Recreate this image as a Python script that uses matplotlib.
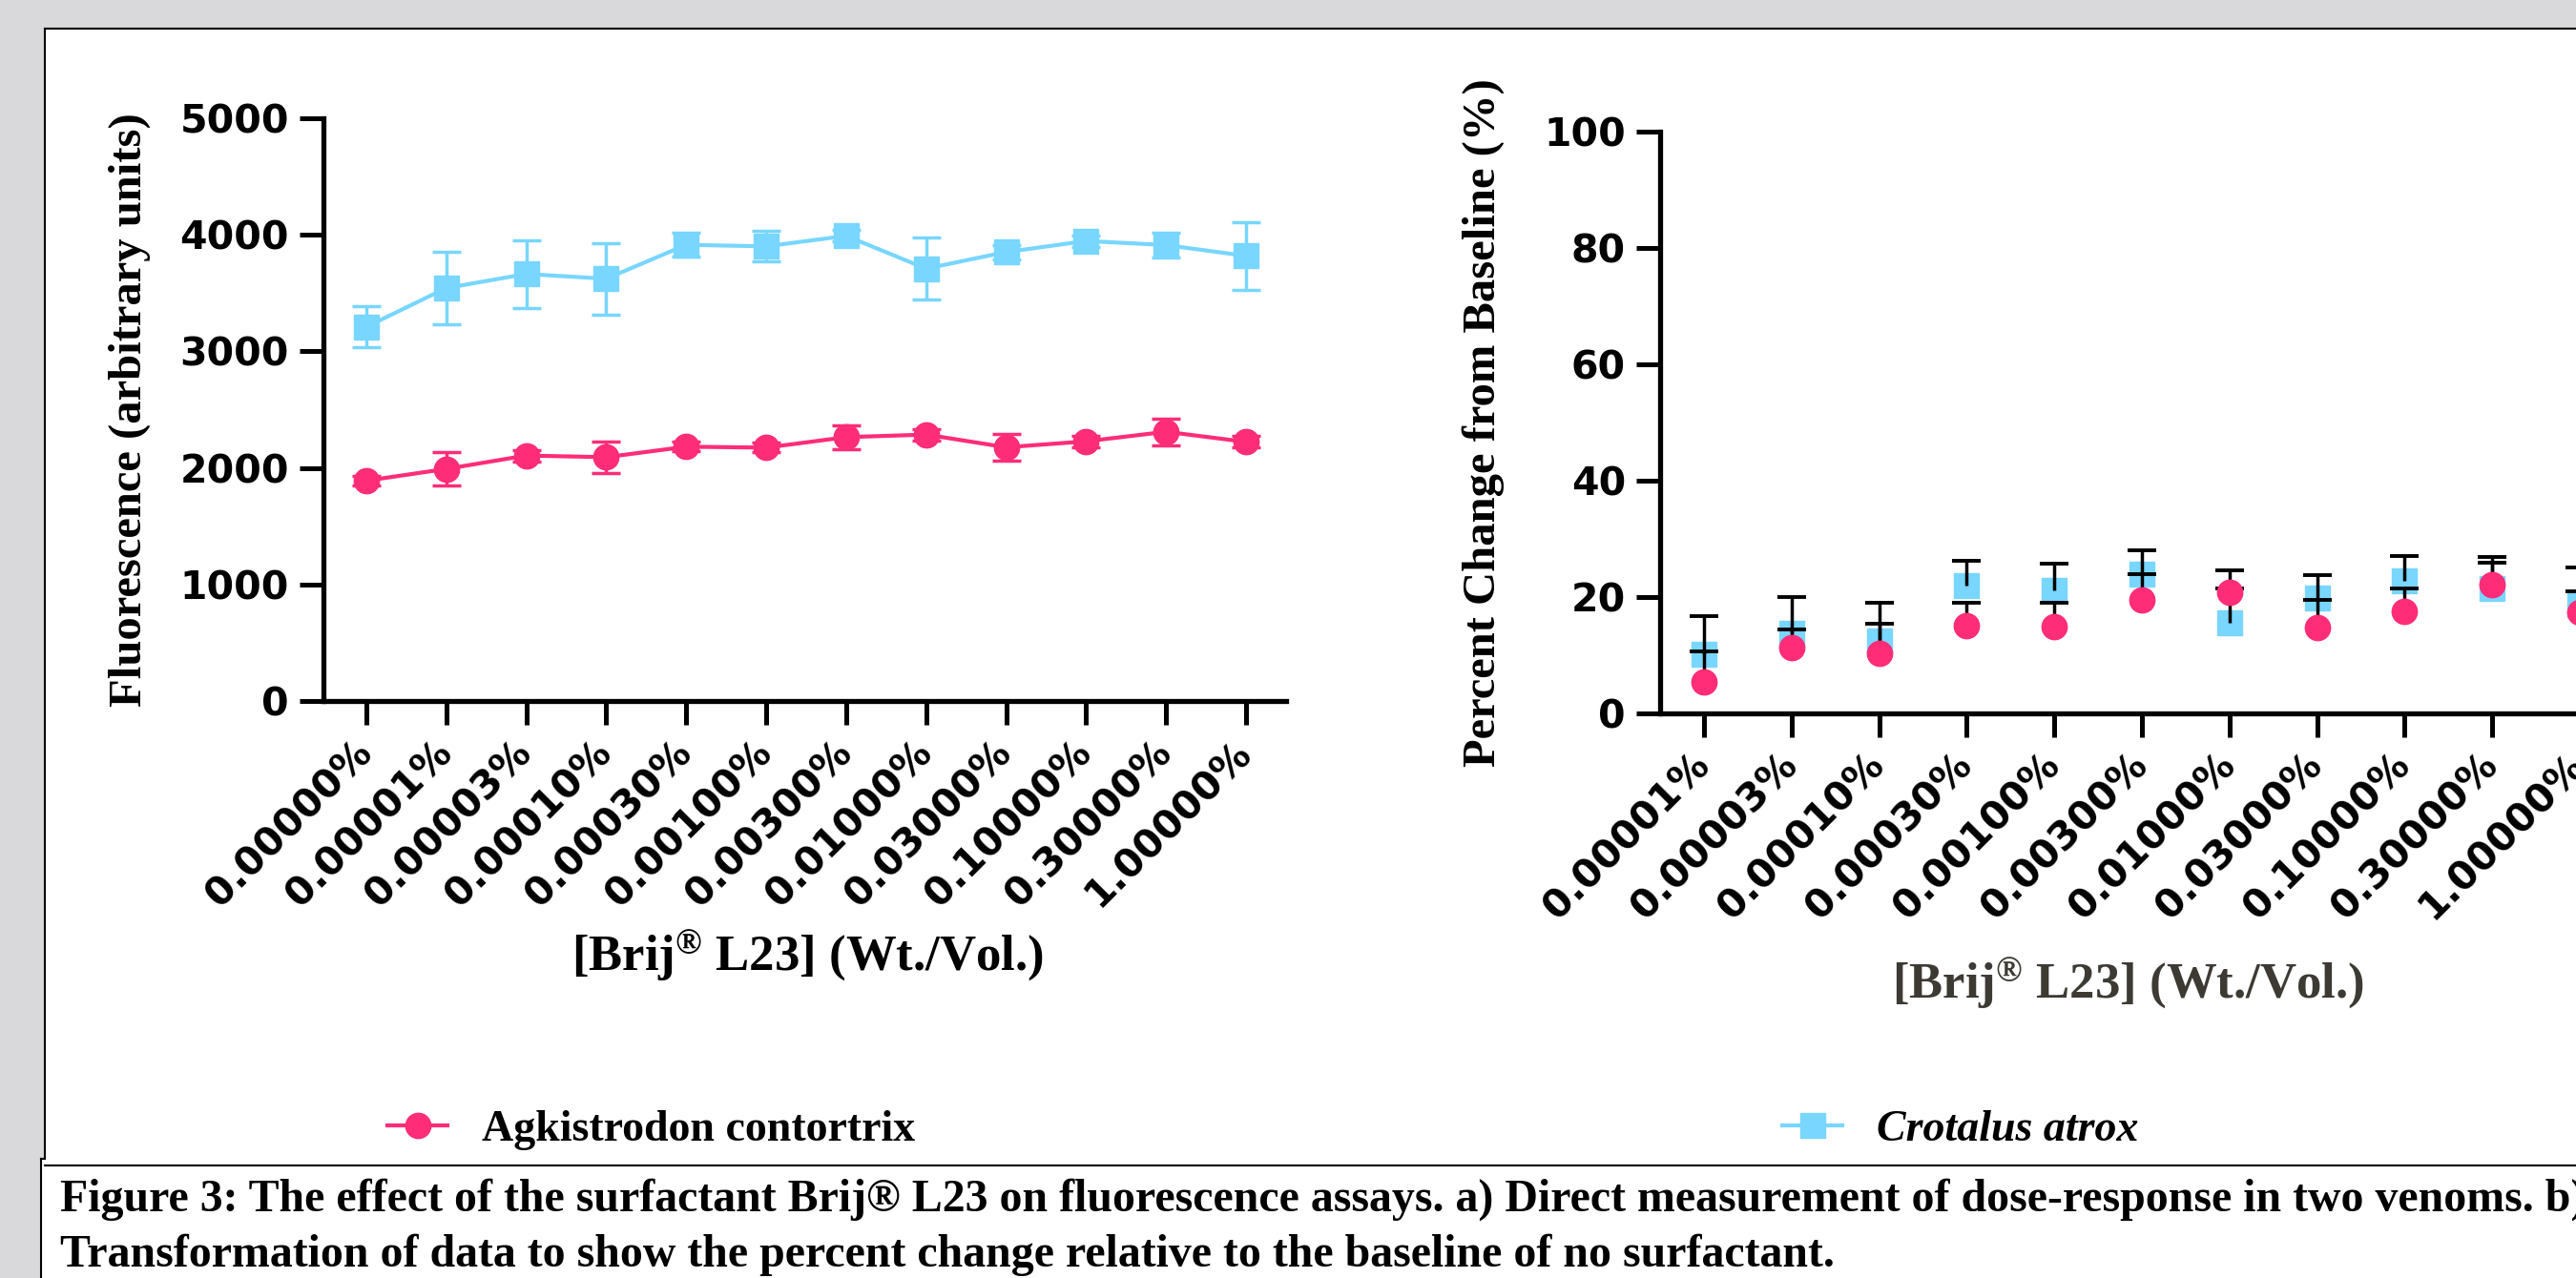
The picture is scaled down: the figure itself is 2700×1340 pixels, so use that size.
import numpy as np
import matplotlib
matplotlib.use("Agg")
import matplotlib.pyplot as plt
from matplotlib.lines import Line2D
from matplotlib.patches import Rectangle
from matplotlib.font_manager import FontProperties

# dose labels (panel a has the 0 % baseline, panel b starts at 0.00001 %)
doses_a = ["0.00000%", "0.00001%", "0.00003%", "0.00010%", "0.00030%", "0.00100%",
           "0.00300%", "0.01000%", "0.03000%", "0.10000%", "0.30000%", "1.00000%"]
doses_b = doses_a[1:]

# a) raw fluorescence, mean and SD
agk_fluor = [1890, 1991, 2106, 2092, 2182, 2174, 2264, 2286, 2177, 2228, 2310, 2223]
agk_fluor_err = [40, 142, 50, 133, 40, 40, 105, 50, 115, 50, 113, 50]
cro_fluor = [3210, 3543, 3664, 3623, 3914, 3901, 3991, 3710, 3852, 3947, 3912, 3819]
cro_fluor_err = [175, 310, 290, 305, 100, 130, 50, 265, 60, 50, 105, 290]

# b) percent change from baseline, mean and upper SD
agk_pct = [5.45, 11.3, 10.4, 15.15, 14.9, 19.5, 20.8, 14.8, 17.6, 22.1, 17.4]
agk_pct_err = [5.15, 3.2, 5.0, 3.9, 4.1, 4.5, 3.8, 4.7, 3.9, 4.8, 3.5]
cro_pct = [10.1, 13.7, 12.4, 21.9, 21.2, 24.0, 15.5, 19.75, 22.7, 21.55, 18.7]
cro_pct_err = [6.6, 6.35, 6.67, 4.3, 4.6, 4.1, 6.0, 3.95, 4.4, 4.35, 6.4]

PINK = "#FF2D78"
BLUE = "#78D6FF"
GREY = "#D9D9DB"

W, H = 2700, 1340


def fx(px):
    return px / W


def fy(py):
    return 1 - py / H


plt.rcParams["mathtext.fontset"] = "custom"
plt.rcParams["mathtext.rm"] = "Liberation Serif:bold"
plt.rcParams["mathtext.default"] = "rm"

serif = "Liberation Serif"
tick_fs = 29.5

fig = plt.figure(figsize=(W / 100, H / 100), dpi=100, facecolor=GREY)

# page boxes behind the figure
fig.patches.append(Rectangle((fx(47), fy(1215)), fx(2800) - fx(47), fy(30) - fy(1215),
                             transform=fig.transFigure, facecolor="white", edgecolor="none", zorder=-5))
fig.patches.append(Rectangle((fx(43), fy(1400)), fx(2800) - fx(43), fy(1215) - fy(1400),
                             transform=fig.transFigure, facecolor="white", edgecolor="none", zorder=-5))
for xs, ys in [([47, 47], [1215, 30]), ([47, 2800], [30, 30]), ([43, 47], [1215, 1215]),
               ([43, 43], [1215, 1400]), ([47, 2800], [1222, 1222])]:
    fig.add_artist(Line2D([fx(v) for v in xs], [fy(v) for v in ys], transform=fig.transFigure,
                          color="black", lw=1.5, zorder=-4))


def style_axis(ax):
    ax.set_zorder(2)
    for side in ["top", "right"]:
        ax.spines[side].set_visible(False)
    for side in ["left", "bottom"]:
        ax.spines[side].set_linewidth(3.8)
    ax.tick_params(axis="both", length=18, width=3.6)
    ax.tick_params(axis="y", pad=8)
    ax.tick_params(axis="x", pad=17)
    ax.set_facecolor("none")


# ---- panel a
ax1 = fig.add_axes([fx(339), fy(735), (1348 - 339) / W, (735 - 124) / H])
xa = np.arange(len(doses_a))
ax1.errorbar(xa, cro_fluor, yerr=cro_fluor_err, color=BLUE, marker="s", ms=19, lw=3,
             elinewidth=2.5, capsize=11, capthick=2.5, clip_on=False)
ax1.errorbar(xa, agk_fluor, yerr=agk_fluor_err, color=PINK, marker="o", ms=19, lw=3,
             elinewidth=2.5, capsize=11, capthick=2.5, clip_on=False)
ax1.set_xlim(-0.535, 11.5)
ax1.set_ylim(0, 5000)
ax1.set_yticks(np.arange(0, 5001, 1000), [str(v) for v in range(0, 5001, 1000)],
               fontsize=tick_fs, fontweight="bold")
ax1.set_xticks(xa, doses_a, rotation=45, ha="right", va="center", rotation_mode="anchor",
               fontsize=tick_fs, fontweight="bold")
style_axis(ax1)

# ---- panel b
ax2 = fig.add_axes([fx(1740), fy(748), 1010 / W, (748 - 137.8) / H])
xb = np.arange(len(doses_b))
agk_top = np.array(agk_pct) + np.array(agk_pct_err)
cro_top = np.array(cro_pct) + np.array(cro_pct_err)
ax2.plot(xb, cro_pct, ls="none", marker="s", ms=19, color=BLUE, zorder=2)
ax2.vlines(xb, cro_pct, cro_top, color="black", lw=2.5, zorder=3)
ax2.vlines(xb, agk_pct, agk_top, color="black", lw=2.5, zorder=3)
ax2.plot(xb, cro_top, ls="none", marker="_", ms=21, mew=2.8, color="black", zorder=3)
ax2.plot(xb, agk_top, ls="none", marker="_", ms=21, mew=2.8, color="black", zorder=3)
ax2.plot(xb, agk_pct, ls="none", marker="o", ms=19, color=PINK, zorder=4)
ax2.set_xlim(-0.5, 10.5)
ax2.set_ylim(0, 100)
ax2.set_yticks(np.arange(0, 101, 20), [str(v) for v in range(0, 101, 20)],
               fontsize=tick_fs, fontweight="bold")
ax2.set_xticks(xb, doses_b, rotation=45, ha="right", va="center", rotation_mode="anchor",
               fontsize=tick_fs, fontweight="bold")
style_axis(ax2)

# axis titles
fig.text(fx(136), fy(430), "Fluorescence (arbitrary units)", rotation=90, ha="center", va="center",
         family=serif, weight="bold", fontsize=35)
fig.text(fx(1555), fy(443), "Percent Change from Baseline (%)", rotation=90, ha="center", va="center",
         family=serif, weight="bold", fontsize=35)
xlab = r"[Brij$^{®}$ L23] (Wt./Vol.)"
fig.text(fx(846), fy(1017.5), xlab, ha="center", va="baseline", family=serif, weight="bold", fontsize=38)
fig.text(fx(2230), fy(1046), xlab, ha="center", va="baseline", family=serif, weight="bold",
         fontsize=38, color="#3D3A33")

# legend entries
leg_kw = dict(loc="center left", frameon=False, borderpad=0, borderaxespad=0,
              handlelength=1.38, handletextpad=0.77)
h_agk = Line2D([], [], color=PINK, marker="o", ms=19, lw=3)
h_cro = Line2D([], [], color=BLUE, marker="s", ms=19, lw=3)
fig.legend([h_agk], ["Agkistrodon contortrix"], bbox_to_anchor=(fx(406), fy(1185)),
           prop=FontProperties(family=serif, weight="bold", size=33), **leg_kw)
fig.legend([h_cro], ["Crotalus atrox"], bbox_to_anchor=(fx(1868), fy(1185)),
           prop=FontProperties(family=serif, weight="bold", style="italic", size=33), **leg_kw)

# caption
cap1 = ("Figure 3: The effect of the surfactant Brij® L23 on fluorescence assays. "
        "a) Direct measurement of dose-response in two venoms. b)")
cap2 = "Transformation of data to show the percent change relative to the baseline of no surfactant."
fig.text(fx(63), fy(1270), cap1, family=serif, weight="bold", fontsize=34.5, va="baseline")
fig.text(fx(63), fy(1328), cap2, family=serif, weight="bold", fontsize=34.5, va="baseline")

fig.savefig("out.png", dpi=100, facecolor=GREY)
